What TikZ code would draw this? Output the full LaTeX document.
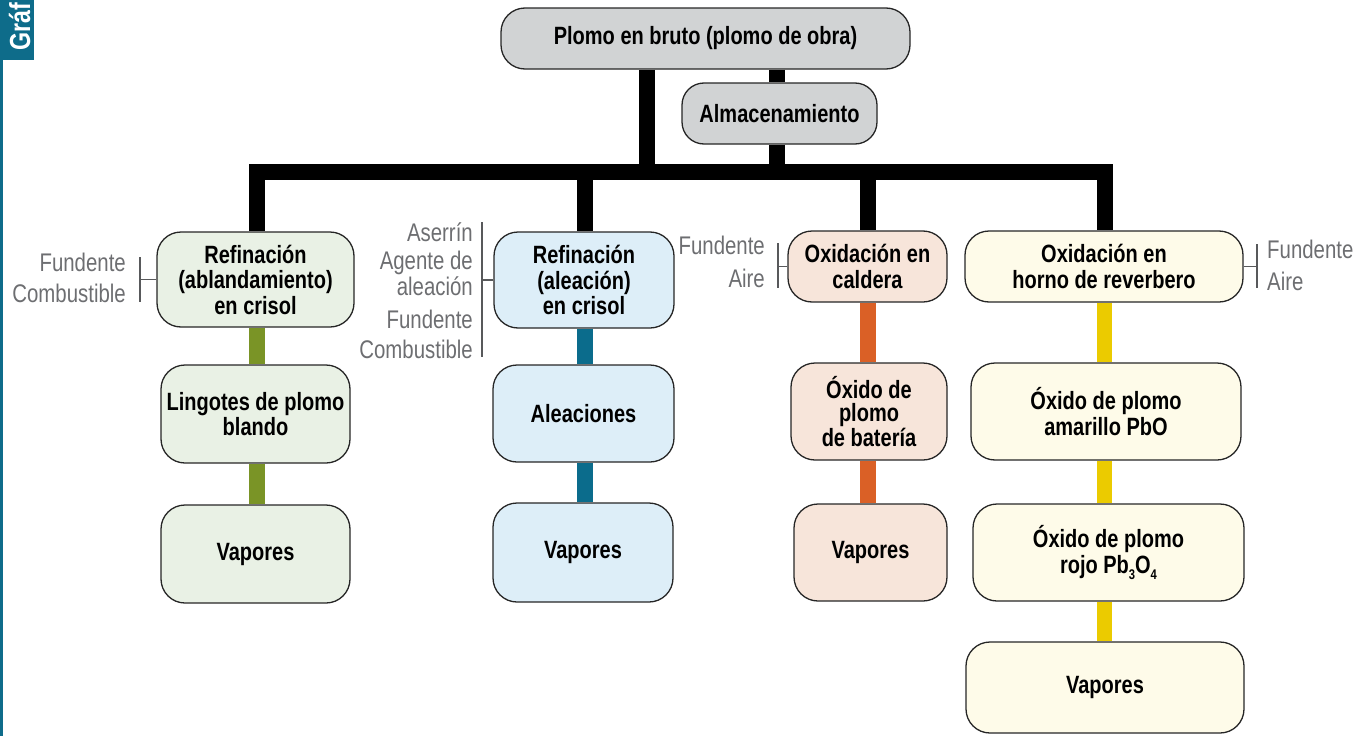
\documentclass[tikz,border=0pt]{standalone}
\usepackage{fontspec}
\setmainfont{Liberation Sans}[FakeStretch=0.8]
\definecolor{tabteal}{HTML}{0E6C8A}
\definecolor{grayfill}{HTML}{D1D3D4}
\definecolor{greenfill}{HTML}{E9F1E5}
\definecolor{greenline}{HTML}{7A9426}
\definecolor{bluefill}{HTML}{DDEEF8}
\definecolor{blueline}{HTML}{0B6C8C}
\definecolor{orangefill}{HTML}{F7E5DA}
\definecolor{orangeline}{HTML}{DA6026}
\definecolor{yellowfill}{HTML}{FEFBE9}
\definecolor{yellowline}{HTML}{EBCB00}
\definecolor{labelgray}{HTML}{6D6E71}
\definecolor{brackgray}{HTML}{58595B}
\pgfdeclarelayer{bg}
\pgfsetlayers{bg,main}
\newcommand{\lowsub}[1]{\raisebox{-0.45ex}{\fontsize{14}{14}\selectfont #1}}
\tikzset{
  box/.style={draw=black!85, line width=1.3pt, rounded corners=24pt, align=center,
    font=\bfseries\fontsize{25}{25.5}\selectfont, inner sep=2pt},
  lbl/.style={text=labelgray, font=\fontsize{25.5}{22}\selectfont, inner sep=0pt},
  blk/.style={line width=16pt, black},
  gline/.style={line width=15.5pt, greenline},
  bline/.style={line width=15.5pt, blueline},
  oline/.style={line width=15.5pt, orangeline},
  yline/.style={line width=15.5pt, yellowline},
  brk/.style={line width=1.4pt, brackgray},
}
\begin{document}
\begin{tikzpicture}[x=1pt,y=-1pt]
\useasboundingbox (0,0) rectangle (1371,736);
% tab
\fill[tabteal] (0,0) rectangle (34,60);
\fill[tabteal] (0,60) rectangle (2.5,736);
\node[text=white, font=\bfseries\fontsize{29}{29}\selectfont, rotate=90, anchor=base west, inner sep=0pt] (tab) at (30,51) {Gráf};

% top nodes
\node[box, fill=grayfill, minimum width=409, minimum height=61] (top) at (705.5,38.5) {Plomo en bruto (plomo de obra)};
\node[box, fill=grayfill, minimum width=195, minimum height=61, rounded corners=22pt] (alm) at (779.5,113.5) {Almacenamiento};

% column 1
\node[box, fill=greenfill, minimum width=197, minimum height=95] (r1) at (255.5,279.5) {Refinación\\(ablandamiento)\\en crisol};
\node[box, fill=greenfill, minimum width=189, minimum height=98] (l1) at (255.5,414) {Lingotes de plomo\\blando};
\node[box, fill=greenfill, minimum width=189, minimum height=98] (v1) at (255.5,554) {Vapores};

% column 2
\node[box, fill=bluefill, minimum width=180, minimum height=96] (r2) at (584,280) {Refinación\\(aleación)\\en crisol};
\node[box, fill=bluefill, minimum width=181, minimum height=97] (a2) at (583.5,413.5) {Aleaciones};
\node[box, fill=bluefill, minimum width=180, minimum height=99] (v2) at (583,552.5) {Vapores};

% column 3
\node[box, fill=orangefill, minimum width=159, minimum height=71] (o3) at (867.5,266.5) {Oxidación en\\caldera};
\node[box, fill=orangefill, minimum width=156, minimum height=97, font=\bfseries\fontsize{25}{23.5}\selectfont] (b3) at (869,411.5) {Óxido de\\plomo\\de batería};
\node[box, fill=orangefill, minimum width=153, minimum height=97] (v3) at (870.5,552.5) {Vapores};

% column 4
\node[box, fill=yellowfill, minimum width=278, minimum height=71] (o4) at (1104,266.5) {Oxidación en\\horno de reverbero};
\node[box, fill=yellowfill, minimum width=270, minimum height=97] (m4) at (1106,411.5) {Óxido de plomo\\amarillo PbO};
\node[box, fill=yellowfill, minimum width=271, minimum height=97] (p4) at (1108.5,552.5) {Óxido de plomo\\rojo Pb\lowsub{3}O\lowsub{4}};
\node[box, fill=yellowfill, minimum width=278, minimum height=91] (v4) at (1105,687.5) {Vapores};

% coordinates
\coordinate (bl) at (249,172);
\coordinate (br) at (1113,172);
\coordinate (j1) at (647,172);
\coordinate (j2) at (777,172);
\coordinate (c1) at (257,172);
\coordinate (c2) at (585,172);
\coordinate (c3) at (868,172);
\coordinate (c4) at (1104.5,172);

\begin{pgfonlayer}{bg}
\draw[blk] (bl) -- (br);
\draw[blk] (top.south -| j1) -- (j1);
\draw[blk] (top.south -| j2) -- (alm.north -| j2);
\draw[blk] (alm.south -| j2) -- (j2);
\draw[blk] (c1) -- (r1.north -| c1);
\draw[blk] (c2) -- (r2.north -| c2);
\draw[blk] (c3) -- (o3.north -| c3);
\draw[blk] (c4) -- (o4.north -| c4);
\draw[gline] (r1.south -| c1) -- (l1.north -| c1);
\draw[gline] (l1.south -| c1) -- (v1.north -| c1);
\draw[bline] (r2.south -| c2) -- (a2.north -| c2);
\draw[bline] (a2.south -| c2) -- (v2.north -| c2);
\draw[oline] (o3.south -| c3) -- (b3.north -| c3);
\draw[oline] (b3.south -| c3) -- (v3.north -| c3);
\draw[yline] (o4.south -| c4) -- (m4.north -| c4);
\draw[yline] (m4.south -| c4) -- (p4.north -| c4);
\draw[yline] (p4.south -| c4) -- (v4.north -| c4);
\end{pgfonlayer}

% brackets
\coordinate (k1t) at (140,257); \coordinate (k1b) at (140,302);
\draw[brk] (k1t) -- (k1b);
\draw[brk] (r1.west) -- (r1.west -| k1t);
\coordinate (k2t) at (482,222); \coordinate (k2b) at (482,357);
\draw[brk] (k2t) -- (k2b);
\draw[brk] (r2.west) -- (r2.west -| k2t);
\coordinate (k3t) at (778,243); \coordinate (k3b) at (778,288);
\draw[brk] (k3t) -- (k3b);
\draw[brk] (o3.west) -- (o3.west -| k3t);
\coordinate (k4t) at (1257,244); \coordinate (k4b) at (1257,288);
\draw[brk] (k4t) -- (k4b);
\draw[brk] (o4.east) -- (o4.east -| k4t);

% labels
\node[lbl, anchor=base east] (f1) at (126,271) {Fundente};
\node[lbl, anchor=base east] (cb1) at (126,302) {Combustible};
\node[lbl, anchor=base east] (as2) at (473,241) {Aserrín};
\node[lbl, anchor=base east, align=right] (ag2) at (473,295) {Agente de\\aleación};
\node[lbl, anchor=base east] (f2) at (473,328) {Fundente};
\node[lbl, anchor=base east] (cb2) at (473,358) {Combustible};
\node[lbl, anchor=base east] (f3) at (765,254) {Fundente};
\node[lbl, anchor=base east] (ai3) at (765,287) {Aire};
\node[lbl, anchor=base west] (f4) at (1267,258) {Fundente};
\node[lbl, anchor=base west] (ai4) at (1267,290) {Aire};
\end{tikzpicture}
\end{document}
